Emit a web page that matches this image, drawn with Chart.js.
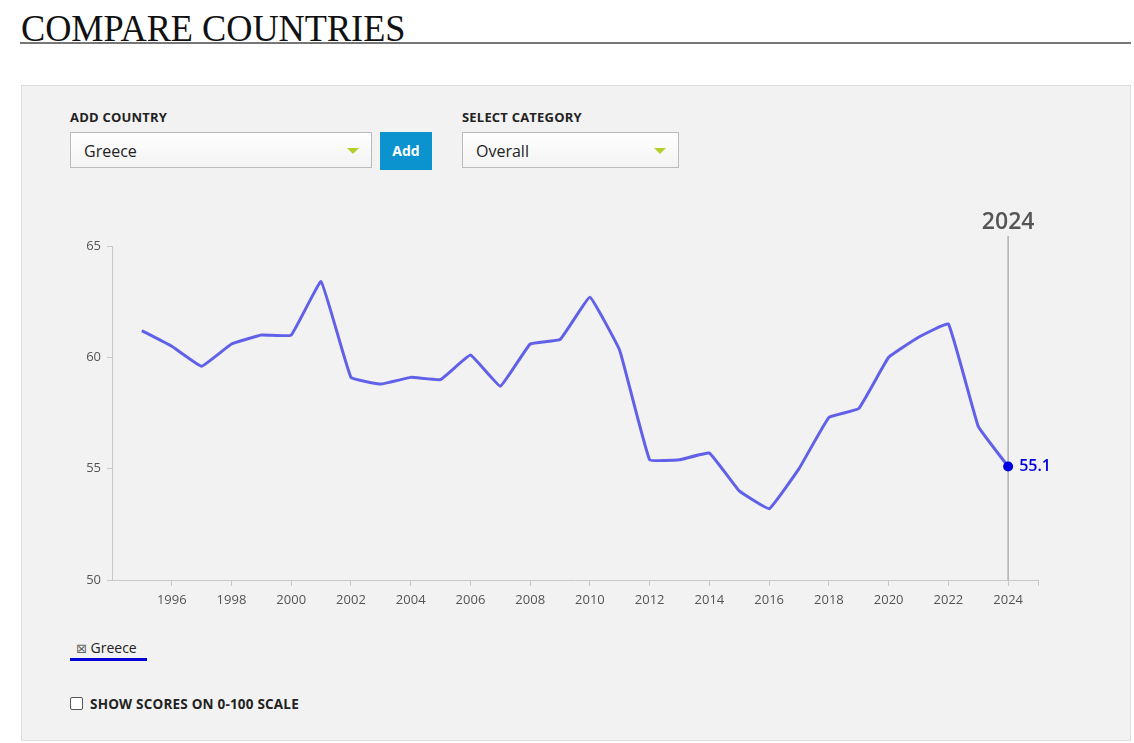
<!DOCTYPE html>
<html>
<head>
<meta charset="utf-8">
<script src="https://cdn.jsdelivr.net/npm/chart.js@4/dist/chart.umd.min.js"></script>
<style>
  body { margin: 0; background: #fff; font-family: "Open Sans", sans-serif; width: 1134px; height: 743px; position: relative; overflow: hidden; }
  h1 { position: absolute; left: 21px; top: 7px; margin: 0; font: 400 37px "Liberation Serif", serif; letter-spacing: 0; color: #111; transform: scaleX(0.98); transform-origin: left top; }
  .rule { position: absolute; left: 20px; top: 42px; width: 1111px; height: 2px; background: #777; }
  .panel { position: absolute; left: 21px; top: 85px; width: 1108px; height: 654px; background: #f2f2f2; border: 1px solid #ddd; }
  .lbl { position: absolute; font: 700 13px "Open Sans", sans-serif; color: #222; letter-spacing: 0.2px; }
  .sel { position: absolute; height: 36px; background: linear-gradient(#fff, #f3f3f3); border: 1px solid #bbb; box-sizing: border-box; font: 16px "Open Sans", sans-serif; color: #222; line-height: 36px; padding-left: 13px; }
  .sel::after { content: ""; position: absolute; right: 12px; top: 15px; border-left: 6px solid transparent; border-right: 6px solid transparent; border-top: 6px solid #b5cf2a; }
  .btn { position: absolute; left: 380px; top: 132px; width: 52px; height: 38px; background: #0a93cf; color: #fff; font: 700 14px "Open Sans", sans-serif; text-align: center; line-height: 38px; }
  .legend { position: absolute; left: 76px; top: 638px; font: 14px "Open Sans", sans-serif; color: #222; }
  .legend span { color: #666; font: 13px "DejaVu Sans", sans-serif; }
  .legend-line { position: absolute; left: 70px; top: 658px; width: 77px; height: 3px; background: #0000d8; }
  .chk { position: absolute; left: 70px; top: 697px; width: 13px; height: 13px; border: 1px solid #555; border-radius: 2px; background: #fff; box-sizing: border-box; }
  #wrap { position: absolute; left: 60px; top: 190px; width: 1060px; height: 430px; }
</style>
</head>
<body>
<h1>COMPARE COUNTRIES</h1>
<div class="rule"></div>
<div class="panel"></div>
<div class="lbl" style="left:70px;top:108px">ADD COUNTRY</div>
<div class="sel" style="left:70px;top:132px;width:302px">Greece</div>
<div class="btn">Add</div>
<div class="lbl" style="left:462px;top:108px">SELECT CATEGORY</div>
<div class="sel" style="left:462px;top:132px;width:217px">Overall</div>
<div id="wrap"><canvas id="chart"></canvas></div>
<div class="legend"><span>&#x22A0;</span> Greece</div>
<div class="legend-line"></div>
<div class="chk"></div>
<div class="lbl" style="left:90px;top:695px;font-size:13.5px">SHOW SCORES ON 0-100 SCALE</div>

<script>
const years = [1995, 1996, 1997, 1998, 1999, 2000, 2001, 2002, 2003, 2004,
  2005, 2006, 2007, 2008, 2009, 2010, 2011, 2012, 2013, 2014,
  2015, 2016, 2017, 2018, 2019, 2020, 2021, 2022, 2023, 2024];
const greeceScores = [61.2, 60.5, 59.6, 60.6, 61.0, 61.0, 63.4, 59.1, 58.8, 59.1,
  59.0, 60.1, 58.7, 60.6, 60.8, 62.7, 60.3, 55.4, 55.4, 55.7,
  54.0, 53.2, 55.0, 57.3, 57.7, 60.0, 60.9, 61.5, 56.9, 55.1];
const xTicks = [1996, 1998, 2000, 2002, 2004, 2006, 2008, 2010, 2012, 2014, 2016, 2018, 2020, 2022, 2024, 2025];
const yTicks = [50, 55, 60, 65];
const currentYear = 2024;

const lastIdx = years.length - 1;

// vertical marker + labels for the current year
const markerPlugin = {
  id: "marker",
  afterDatasetsDraw(chart) {
    const { ctx, scales: { x, y }, chartArea } = chart;
    const px = x.getPixelForValue(currentYear);
    const py = y.getPixelForValue(greeceScores[lastIdx]);
    ctx.save();
    ctx.strokeStyle = "#b0b0b0";
    ctx.lineWidth = 1.5;
    ctx.beginPath();
    ctx.moveTo(px, chartArea.top - 10);
    ctx.lineTo(px, chartArea.bottom);
    ctx.stroke();
    ctx.fillStyle = "#555";
    ctx.font = "600 23px 'Open Sans', sans-serif";
    ctx.textAlign = "center";
    ctx.textBaseline = "alphabetic";
    ctx.fillText(String(currentYear), px, chartArea.top - 17);
    // dot on top of the line
    ctx.fillStyle = "#0000e0";
    ctx.beginPath();
    ctx.arc(px, py, 5, 0, Math.PI * 2);
    ctx.fill();
    ctx.font = "600 16px 'Open Sans', sans-serif";
    ctx.textAlign = "left";
    ctx.textBaseline = "middle";
    ctx.fillText(greeceScores[lastIdx].toFixed(1), px + 11, py);
    ctx.restore();
  }
};

new Chart(document.getElementById("chart"), {
  type: "line",
  data: {
    datasets: [{
      label: "Greece",
      data: years.map((yr, i) => ({ x: yr, y: greeceScores[i] })),
      borderColor: "#6160e8",
      borderWidth: 3,
      tension: 0.08,
      pointRadius: 0,
      fill: false
    }]
  },
  options: {
    responsive: true,
    maintainAspectRatio: false,
    animation: false,
    layout: { padding: { top: 56, right: 82, left: 0, bottom: 0 } },
    scales: {
      x: {
        type: "linear",
        min: 1994,
        max: 2025,
        afterBuildTicks: (scale) => { scale.ticks = xTicks.map(v => ({ value: v })); },
        afterFit: (scale) => { scale.height = 40; },
        ticks: {
          color: "#555",
          font: { family: "'Open Sans', sans-serif", size: 13 },
          padding: 6,
          maxRotation: 0,
          autoSkip: false,
          callback: (v) => (v === 2025 ? "" : String(v))
        },
        grid: { drawOnChartArea: false, drawTicks: true, tickLength: 6, color: "#c8c8c8" },
        border: { color: "#c8c8c8" }
      },
      y: {
        min: 50,
        max: 65,
        afterBuildTicks: (scale) => { scale.ticks = yTicks.map(v => ({ value: v })); },
        afterFit: (scale) => { scale.width = 52; },
        ticks: {
          color: "#555",
          font: { family: "'Open Sans', sans-serif", size: 13 },
          padding: 6
        },
        grid: { drawOnChartArea: false, drawTicks: true, tickLength: 5, color: "#c8c8c8" },
        border: { color: "#c8c8c8" }
      }
    },
    plugins: {
      legend: { display: false },
      tooltip: { enabled: false }
    }
  },
  plugins: [markerPlugin]
});
</script>
</body>
</html>
